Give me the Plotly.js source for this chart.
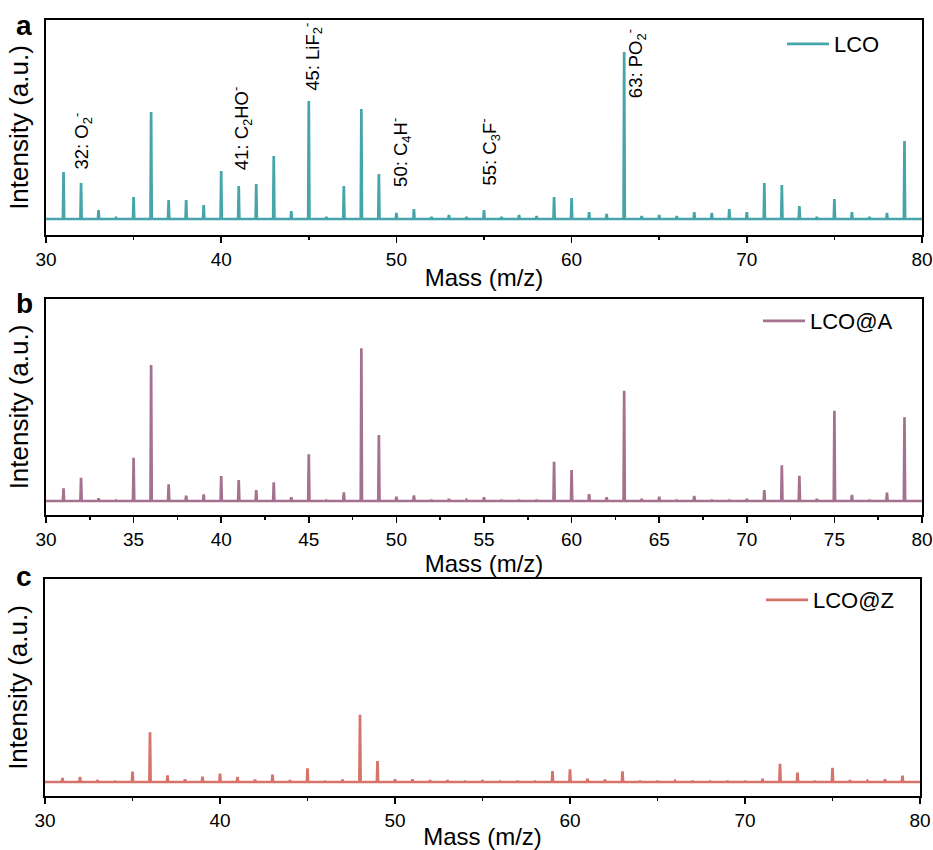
<!DOCTYPE html>
<html>
<head>
<meta charset="utf-8">
<script src="https://cdn.plot.ly/plotly-3.0.1.min.js"></script>
<style>
html,body{margin:0;padding:0;background:#fff;}
#chart{width:933px;height:850px;}
</style>
</head>
<body>
<div id="chart"></div>
<script>
// ---- data ----
const masses = [31,32,33,34,35,36,37,38,39,40,41,42,43,44,45,46,47,48,49,50,51,52,53,54,55,56,57,58,59,60,61,62,63,64,65,66,67,68,69,70,71,72,73,74,75,76,77,78,79];
const lcoIntensity = [47,36,9,1,22,107,19,19,14,48,33,35,63,8,118,2,33,110,45,6,10,2,4,2,9,2,4,3,22,21,7,5,167,3,4,3,7,6,10,7,36,34,13,2,20,7,2,6,78];
const lcoAIntensity = [12.7,23.3,2.7,0.5,43.3,136,16.7,5.3,6.7,25,21,11,18.7,3.7,46.7,0.5,8.7,152.7,66,4.3,5.7,1.3,2,1,3.7,1.3,1.3,1.3,39.3,31,7,3.7,110.3,2,4.3,1.3,5,1.3,1.3,2,11,35.7,25.3,2,90.3,6,1.3,8.3,83.7];
const lcoZIntensity = [4,5,1.7,0.5,10.3,49.7,6.7,2.7,5.3,8.3,5,2.3,7.3,1.7,13.7,0.5,2.3,67.3,21,2.7,2.7,1.7,1.7,0.5,1.7,0.5,1.3,0.5,11,12.7,3.3,2.3,10.7,1.3,1.3,1,1.3,0.5,1.3,1.3,3.3,18.3,9.3,1.3,14.3,1.7,1,2.7,6.3];
const seriesNames = ["LCO","LCO@A","LCO@Z"];
const peakLabelMasses = [32,41,45,50,55,63];
const peakLabelTexts = ["32: O<sub>2</sub><sup>-</sup>","41: C<sub>2</sub>HO<sup>-</sup>","45: LiF<sub>2</sub><sup>-</sup>","50: C<sub>4</sub>H<sup>-</sup>","55: C<sub>3</sub>F<sup>-</sup>","63: PO<sub>2</sub><sup>-</sup>"];
const xRange = [30,80];

// ---- styling / layout config ----
const colors = ["#45a5aa","#a4718f","#d6736a"];
const FONT = "Liberation Sans, Arial, Helvetica, sans-serif";
const labelY = [47,47,126,30,31,119];     // label base heights (data units, panel a)
const labelXShift = [1,3,3,4,6,-4];
const labelAnchor = ["center","center","center","center","center","left"];

function spectrum(ms, hs){
  const x=[xRange[0]], y=[0];
  const w=0.035;
  for(let i=0;i<ms.length;i++){
    x.push(ms[i]-w, ms[i], ms[i]+w);
    y.push(0, hs[i], 0);
  }
  x.push(xRange[1]); y.push(0);
  return {x:x, y:y};
}

const allI = [lcoIntensity, lcoAIntensity, lcoZIntensity];
const traces = allI.map((h,i)=>{
  const s = spectrum(masses, h);
  return {
    type:"scatter", mode:"lines", x:s.x, y:s.y, name:seriesNames[i],
    xaxis: i===0?"x":"x"+(i+1), yaxis: i===0?"y":"y"+(i+1),
    line:{color:colors[i], width:2.7},
    legend: i===0?"legend":"legend"+(i+1),
    hoverinfo:"x+y"
  };
});

const W=933, H=850;
const px = v=>v/W, py = v=>1-v/H;
const panels = [
  {l:46,r:922,t:20,b:235,yr:[-16,199],dtick:10,minor:5},
  {l:46,r:922,t:299,b:515,yr:[-14,202],dtick:5,minor:2.5},
  {l:45,r:920,t:579,b:796,yr:[-14,203],dtick:10,minor:5}
];

const layout = {
  width:W, height:H,
  margin:{l:0,r:0,t:0,b:0},
  paper_bgcolor:"#fff", plot_bgcolor:"#fff",
  font:{family:FONT, color:"#000", size:18},
  showlegend:true,
  annotations:[], 
};

panels.forEach((p,i)=>{
  const xs = i===0?"":String(i+1);
  layout["xaxis"+xs] = {
    domain:[px(p.l),px(p.r)], anchor:"y"+xs, range:xRange, dtick:p.dtick, tick0:30,
    showline:true, linecolor:"#000", linewidth:2, mirror:true,
    ticks:"outside", ticklen:6, tickwidth:1.5, tickcolor:"#000",
    minor:{dtick:p.minor, tick0:30, ticks:"outside", ticklen:3, tickwidth:1.5, tickcolor:"#000", showgrid:false},
    showgrid:false, zeroline:false, automargin:false,
    tickfont:{family:FONT, size:19, color:"#000"},
    title:{text:"Mass (m/z)", font:{family:FONT, size:24, color:"#000"}, standoff:0},
    fixedrange:true
  };
  layout["yaxis"+xs] = {
    domain:[py(p.b),py(p.t)], anchor:"x"+xs, range:p.yr,
    showline:true, linecolor:"#000", linewidth:2, mirror:true,
    ticks:"", showticklabels:false, showgrid:false, zeroline:false, automargin:false,
    title:{text:"Intensity (a.u.)", font:{family:FONT, size:26, color:"#000"}, standoff:8},
    fixedrange:true
  };
  const lg = i===0?"legend":"legend"+(i+1);
  const legY = [44,321,600][i];
  const legX = [782,758,761][i];
  layout[lg] = {
    x:px(legX), xanchor:"left", y:py(legY), yanchor:"middle", itemwidth:42,
    bgcolor:"rgba(0,0,0,0)", borderwidth:0,
    font:{family:FONT, size:22, color:"#000"}
  };
  layout.annotations.push({
    text:"<b>"+["a","b","c"][i]+"</b>", xref:"paper", yref:"paper",
    x:px(24), y:py([25,303,576][i]), xanchor:"center", yanchor:"middle",
    showarrow:false, font:{family:FONT, size:28, color:"#000"}
  });
});

peakLabelMasses.forEach((m,i)=>{
  layout.annotations.push({
    text:peakLabelTexts[i], x:m, y:labelY[i], xref:"x", yref:"y",
    textangle:-90, xanchor:labelAnchor[i], yanchor:"bottom", xshift:labelXShift[i],
    showarrow:false, font:{family:FONT, size:18.5, color:"#000"}
  });
});

Plotly.newPlot("chart", traces, layout, {displayModeBar:false, staticPlot:true});
</script>
</body>
</html>
